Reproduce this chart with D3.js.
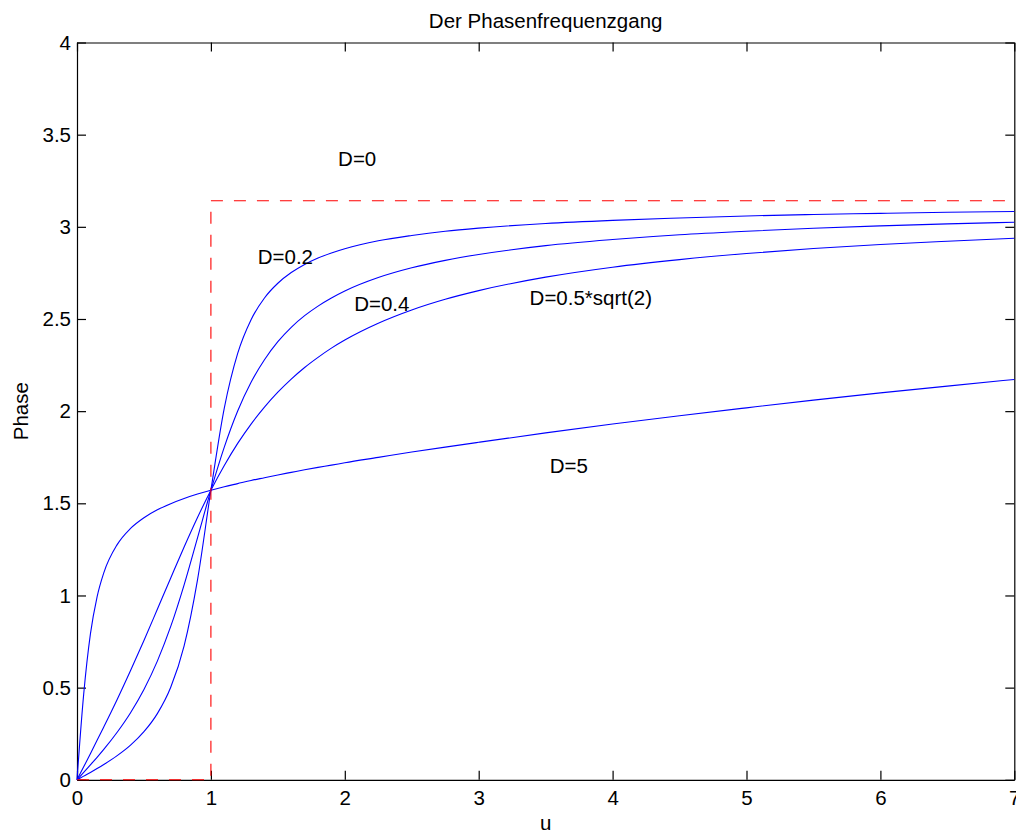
<!DOCTYPE html>
<html>
<head>
<meta charset="utf-8">
<script src="https://cdn.jsdelivr.net/npm/d3@7"></script>
<style>
  body { margin: 0; background: #fff; }
  svg { display: block; }
  text { font-family: "Liberation Sans", Arial, Helvetica, sans-serif; fill: #000; }
  .axis path, .axis line { stroke: #000; stroke-width: 1.2; }
  .axis text { font-size: 20.5px; }
</style>
</head>
<body>
<div id="chart"></div>
<script>
// values
var uValues = [0, 0.05, 0.1, 0.15, 0.2, 0.3, 0.4, 0.5, 0.6, 0.7, 0.8, 0.9, 1.0, 1.1, 1.2, 1.3, 1.4, 1.5, 1.6, 1.7, 1.8, 1.9, 2.0,
    2.25, 2.5, 2.75, 3, 3.5, 4, 4.5, 5, 5.5, 6, 6.5, 7];

var phaseD02 = [0, 0.020, 0.040, 0.061, 0.083, 0.131, 0.188, 0.261, 0.359, 0.502, 0.727, 1.085, 1.571, 2.016, 2.313, 2.496, 2.614, 2.694,
    2.752, 2.796, 2.831, 2.858, 2.881, 2.924, 2.953, 2.976, 2.993, 3.018, 3.035, 3.048, 3.059, 3.067, 3.073, 3.079, 3.083];

var phaseD04 = [0, 0.040, 0.081, 0.122, 0.165, 0.258, 0.364, 0.490, 0.644, 0.832, 1.058, 1.313, 1.571, 1.805, 2.001, 2.157, 2.279, 2.377,
    2.455, 2.518, 2.570, 2.614, 2.652, 2.725, 2.778, 2.818, 2.850, 2.898, 2.931, 2.957, 2.976, 2.992, 3.005, 3.016, 3.025];

var phaseD07 = [0, 0.071, 0.142, 0.214, 0.287, 0.436, 0.593, 0.756, 0.925, 1.095, 1.263, 1.423, 1.571, 1.705, 1.825, 1.930, 2.022, 2.103,
    2.174, 2.237, 2.292, 2.342, 2.386, 2.477, 2.549, 2.607, 2.654, 2.727, 2.781, 2.822, 2.855, 2.882, 2.904, 2.922, 2.938];

var phaseD5 = [0, 0.465, 0.790, 0.993, 1.123, 1.276, 1.364, 1.422, 1.465, 1.498, 1.526, 1.550, 1.571, 1.590, 1.607, 1.624, 1.639, 1.654,
    1.668, 1.682, 1.695, 1.707, 1.720, 1.749, 1.778, 1.805, 1.831, 1.882, 1.930, 1.975, 2.018, 2.060, 2.099, 2.136, 2.172];

// D=0: step from 0 to pi at u=1
var stepU = [0, 1, 1, 7];
var stepPhase = [0, 0, 3.1416, 3.1416];

var xTicks = [0, 1, 2, 3, 4, 5, 6, 7];
var yTicks = [0, 0.5, 1, 1.5, 2, 2.5, 3, 3.5, 4];

var labelText = ["D=0", "D=0.2", "D=0.4", "D=0.5*sqrt(2)", "D=5"];
var labelU = [1.95, 1.35, 2.07, 3.38, 3.53];
var labelPhase = [3.37, 2.838, 2.581, 2.618, 1.704];

var svgWidth = 1016;
var svgHeight = 832;

var margin = {
    top: 42.5,
    left: 77,
    right: 1.7,
    bottom: 52.2
};

var width = svgWidth - margin.left - margin.right;
var height = svgHeight - margin.top - margin.bottom;

var svg = d3.select("#chart").append("svg").attr("width", svgWidth).attr("height", svgHeight);

var chartGroup = svg.append("g").attr("transform", `translate(${margin.left},${margin.top})`);

var xScale = d3.scaleLinear().domain([0, 7]).range([0, width]);
var yScale = d3.scaleLinear().domain([0, 4]).range([height, 0]);

// axes box with inward ticks on all four sides
chartGroup.append("g").attr("class", "axis").attr("transform", `translate(0,${height})`)
    .call(d3.axisBottom(xScale).tickValues(xTicks).tickFormat(d3.format("d")).tickSizeInner(-9).tickSizeOuter(0).tickPadding(11));

chartGroup.append("g").attr("class", "axis")
    .call(d3.axisTop(xScale).tickValues(xTicks).tickFormat("").tickSizeInner(-9).tickSizeOuter(0));

chartGroup.append("g").attr("class", "axis")
    .call(d3.axisLeft(yScale).tickValues(yTicks).tickFormat(d => String(d)).tickSizeInner(-9).tickSizeOuter(0).tickPadding(6));

chartGroup.append("g").attr("class", "axis").attr("transform", `translate(${width},0)`)
    .call(d3.axisRight(yScale).tickValues(yTicks).tickFormat("").tickSizeInner(-9).tickSizeOuter(0));

chartGroup.selectAll(".axis text").attr("font-family", null).style("font-size", "20.5px");

var line = d3.line().x(d => xScale(d.u)).y(d => yScale(d.p)).curve(d3.curveMonotoneX);
var stepLine = d3.line().x(d => xScale(d.u)).y(d => yScale(d.p));

var seriesList = [phaseD02, phaseD04, phaseD07, phaseD5].map(function(vals) {
    return uValues.map((u, i) => ({ u: u, p: vals[i] }));
});

chartGroup.selectAll(".curve").data(seriesList).enter().append("path")
    .attr("class", "curve")
    .attr("d", line)
    .attr("fill", "none")
    .attr("stroke", "#0000ff")
    .attr("stroke-width", 1.1);

var stepData = stepU.map((u, i) => ({ u: u, p: stepPhase[i] }));

chartGroup.append("path")
    .attr("d", stepLine(stepData))
    .attr("fill", "none")
    .attr("stroke", "#ff0000")
    .attr("stroke-width", 1.1)
    .attr("stroke-dasharray", "12,11");

chartGroup.selectAll(".dlabel").data(labelText).enter().append("text")
    .attr("class", "dlabel")
    .attr("x", (d, i) => xScale(labelU[i]))
    .attr("y", (d, i) => yScale(labelPhase[i]))
    .attr("dy", "0.36em")
    .style("font-size", "20.5px")
    .text(d => d);

// title and axis labels
svg.append("text").attr("x", margin.left + width / 2).attr("y", 28)
    .attr("text-anchor", "middle").style("font-size", "20.5px").text("Der Phasenfrequenzgang");

svg.append("text").attr("x", margin.left + width / 2).attr("y", 830)
    .attr("text-anchor", "middle").style("font-size", "20.5px").text("u");

svg.append("text").attr("transform", `translate(27.5,${margin.top + height / 2}) rotate(-90)`)
    .attr("text-anchor", "middle").style("font-size", "20.5px").text("Phase");
</script>
</body>
</html>
